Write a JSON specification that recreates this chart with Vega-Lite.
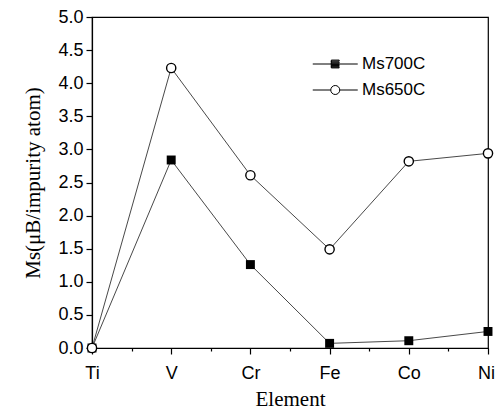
{
  "$schema": "https://vega.github.io/schema/vega-lite/v6.json",
  "width": 396,
  "height": 331,
  "autosize": {"type": "none"},
  "padding": {"left": 92, "top": 17, "right": 7, "bottom": 72},
  "background": "white",
  "config": {
    "view": {"stroke": "black", "strokeWidth": 1.2},
    "axis": {
      "domainColor": "black", "domainWidth": 1.2, "tickColor": "black", "tickWidth": 1.2,
      "labelFont": "Liberation Sans", "labelFontSize": 18, "labelColor": "black",
      "titleFont": "Liberation Serif", "titleFontSize": 21, "titleFontWeight": "normal", "titleColor": "black",
      "grid": false
    }
  },
  "data": {"values": [
    {"element": "Ti", "pos": 0, "series": "Ms700C", "value": 0.0},
    {"element": "V", "pos": 1, "series": "Ms700C", "value": 2.84},
    {"element": "Cr", "pos": 2, "series": "Ms700C", "value": 1.26},
    {"element": "Fe", "pos": 3, "series": "Ms700C", "value": 0.07},
    {"element": "Co", "pos": 4, "series": "Ms700C", "value": 0.11},
    {"element": "Ni", "pos": 5, "series": "Ms700C", "value": 0.25},
    {"element": "Ti", "pos": 0, "series": "Ms650C", "value": 0.0},
    {"element": "V", "pos": 1, "series": "Ms650C", "value": 4.23},
    {"element": "Cr", "pos": 2, "series": "Ms650C", "value": 2.61},
    {"element": "Fe", "pos": 3, "series": "Ms650C", "value": 1.49},
    {"element": "Co", "pos": 4, "series": "Ms650C", "value": 2.82},
    {"element": "Ni", "pos": 5, "series": "Ms650C", "value": 2.94}
  ]},
  "encoding": {
    "x": {
      "field": "pos", "type": "quantitative",
      "scale": {"domain": [0, 5], "nice": false, "zero": false},
      "axis": {
        "title": "Element",
        "values": [0, 0.5, 1, 1.5, 2, 2.5, 3, 3.5, 4, 4.5, 5],
        "labelExpr": "datum.value % 1 === 0 ? ['Ti','V','Cr','Fe','Co','Ni'][datum.value] : ''",
        "tickSize": {"condition": {"test": "datum.value % 1 === 0", "value": 6}, "value": 3},
        "labelOffset": {"condition": {"test": "datum.value === 5", "value": -2}, "value": 0},
        "labelPadding": 10,
        "titlePadding": 6,
        "labelFlush": false
      }
    },
    "y": {
      "field": "value", "type": "quantitative",
      "scale": {"domain": [0, 5], "nice": false},
      "axis": {
        "title": "Ms(μB/impurity atom)",
        "values": [0, 0.5, 1, 1.5, 2, 2.5, 3, 3.5, 4, 4.5, 5],
        "format": ".1f",
        "tickSize": 6,
        "labelPadding": 3,
        "titlePadding": 14
      }
    }
  },
  "layer": [
    {
      "mark": {"type": "line", "color": "#333333", "strokeWidth": 0.9, "clip": false},
      "encoding": {"detail": {"field": "series"}}
    },
    {
      "transform": [{"filter": "datum.series === 'Ms700C'"}],
      "mark": {"type": "point", "shape": "square", "filled": true, "color": "black", "size": 80, "opacity": 1, "clip": false}
    },
    {
      "transform": [{"filter": "datum.series === 'Ms650C'"}],
      "mark": {"type": "point", "shape": "circle", "filled": true, "fill": "white", "stroke": "black", "strokeWidth": 1.4, "size": 85, "opacity": 1, "clip": false}
    },
    {
      "transform": [{"filter": "false"}],
      "mark": {"type": "point", "filled": false, "color": "black", "opacity": 1, "strokeWidth": 1},
      "encoding": {
        "shape": {
          "field": "series", "type": "nominal",
          "scale": {"domain": ["Ms700C", "Ms650C"], "range": [
            "M-1,0H0.65M1.35,0H3M0.65,-0.35H1.35V-0.27H0.65V-0.19H1.35V-0.11H0.65V-0.03H1.35V0.05H0.65V0.13H1.35V0.21H0.65V0.29H1.35V0.35H0.65Z",
            "M-1,0H0.6M1.4,0H3M1.4,0A0.4,0.4 0 1,1 0.6,0A0.4,0.4 0 1,1 1.4,0Z"
          ]},
          "legend": {
            "title": null, "orient": "none", "legendX": 220, "legendY": 35,
            "symbolSize": 506, "symbolStrokeColor": "black", "symbolStrokeWidth": 1,
            "symbolFillColor": "white",
            "symbolOpacity": 1, "labelOffset": 26, "rowPadding": 6,
            "labelFont": "Liberation Sans", "labelFontSize": 17, "labelColor": "black"
          }
        }
      }
    }
  ]
}
